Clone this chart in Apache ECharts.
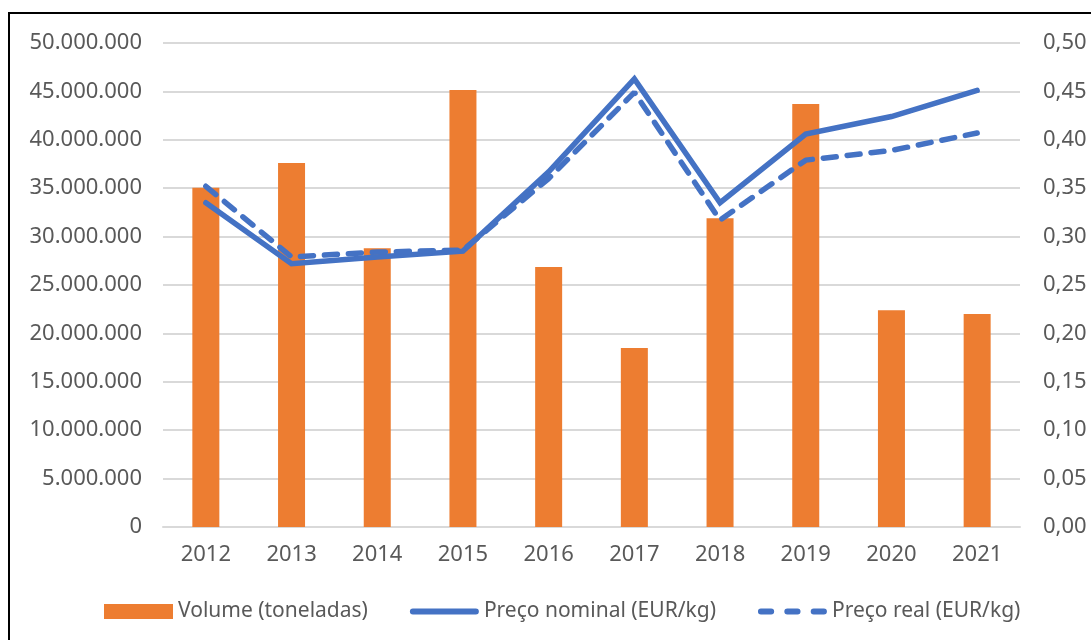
<!DOCTYPE html>
<html>
<head>
<meta charset="utf-8">
<script src="https://cdn.jsdelivr.net/npm/echarts@6/dist/echarts.min.js"></script>
<style>
    html, body {margin: 0; padding: 0; background: #fff;}
    #frame {position: absolute; left: 8px; top: 12px; width: 1100px; height: 640px;
        border-top: 2px solid #000; border-left: 2px solid #000;}
    #chart {position: absolute; left: 0; top: 0; width: 1091px; height: 640px;}
</style>
</head>
<body>
<div id="frame"></div>
<div id="chart"></div>
<script>
// anos
const years = ['2012', '2013', '2014', '2015', '2016', '2017', '2018', '2019', '2020', '2021'];
// Volume (toneladas)
const volume = [35050000, 37600000, 28800000, 45150000, 26850000, 18500000, 31900000, 43700000, 22400000, 22000000];
// Preço nominal (EUR/kg)
const precoNominal = [0.335, 0.272, 0.279, 0.285, 0.367, 0.463, 0.335, 0.406, 0.424, 0.451];
// Preço real (EUR/kg)
const precoReal = [0.352, 0.279, 0.284, 0.286, 0.360, 0.449, 0.317, 0.379, 0.389, 0.407];

const textColor = '#595959';
const font = 'Noto Sans';
const blue = '#4472C4';

// icones da legenda (linha cheia e tracejada)
const iconSolid = 'path://M3,0 L65,0 A3,3 0 0 1 65,6 L3,6 A3,3 0 0 1 3,0 Z';
const iconDashed = 'path://M3,0 L13,0 A3,3 0 0 1 13,6 L3,6 A3,3 0 0 1 3,0 Z ' +
    'M29,0 L39,0 A3,3 0 0 1 39,6 L29,6 A3,3 0 0 1 29,0 Z ' +
    'M55,0 L65,0 A3,3 0 0 1 65,6 L55,6 A3,3 0 0 1 55,0 Z';

function fmtVolume(v) {
    return String(v).replace(/\B(?=(\d{3})+(?!\d))/g, '.');
}
function fmtPreco(v) {
    return v.toFixed(2).replace('.', ',');
}

let myChart = echarts.init(document.getElementById('chart'), null, {renderer: 'canvas'});
myChart.setOption({
    animation: false,
    textStyle: {fontFamily: font},
    grid: {left: 163, right: 71, top: 43, bottom: 113},
    legend: {
        left: 104,
        top: 601,
        padding: 0,
        itemWidth: 69,
        itemHeight: 15,
        itemGap: 42,
        textStyle: {fontSize: 21, color: textColor, fontFamily: font},
        data: [
            {name: 'Volume (toneladas)', icon: 'rect'},
            {name: 'Preço nominal (EUR/kg)', icon: iconSolid},
            {name: 'Preço real (EUR/kg)', icon: iconDashed}
        ]
    },
    xAxis: {
        type: 'category',
        data: years,
        axisTick: {show: false},
        axisLine: {lineStyle: {color: '#d9d9d9', width: 2}},
        axisLabel: {color: textColor, fontSize: 22, margin: 17}
    },
    yAxis: [{
        type: 'value',
        min: 0,
        max: 50000000,
        interval: 5000000,
        axisLabel: {color: textColor, fontSize: 22, margin: 21, formatter: fmtVolume},
        splitLine: {lineStyle: {color: '#d9d9d9', width: 2}}
    }, {
        type: 'value',
        min: 0,
        max: 0.5,
        interval: 0.05,
        position: 'right',
        axisLabel: {color: textColor, fontSize: 22, margin: 23, formatter: fmtPreco},
        splitLine: {show: false}
    }],
    series: [
        {
            name: 'Volume (toneladas)',
            type: 'bar',
            data: volume,
            barWidth: 27,
            itemStyle: {color: '#ED7D31'}
        },
        {
            name: 'Preço nominal (EUR/kg)',
            type: 'line',
            yAxisIndex: 1,
            data: precoNominal,
            symbol: 'none',
            itemStyle: {color: blue},
            lineStyle: {color: blue, width: 5.5, cap: 'round', join: 'miter'}
        },
        {
            name: 'Preço real (EUR/kg)',
            type: 'line',
            yAxisIndex: 1,
            data: precoReal,
            symbol: 'none',
            itemStyle: {color: blue},
            lineStyle: {color: blue, width: 5.5, type: [13, 11], cap: 'round'}
        }
    ]
});
</script>
</body>
</html>
